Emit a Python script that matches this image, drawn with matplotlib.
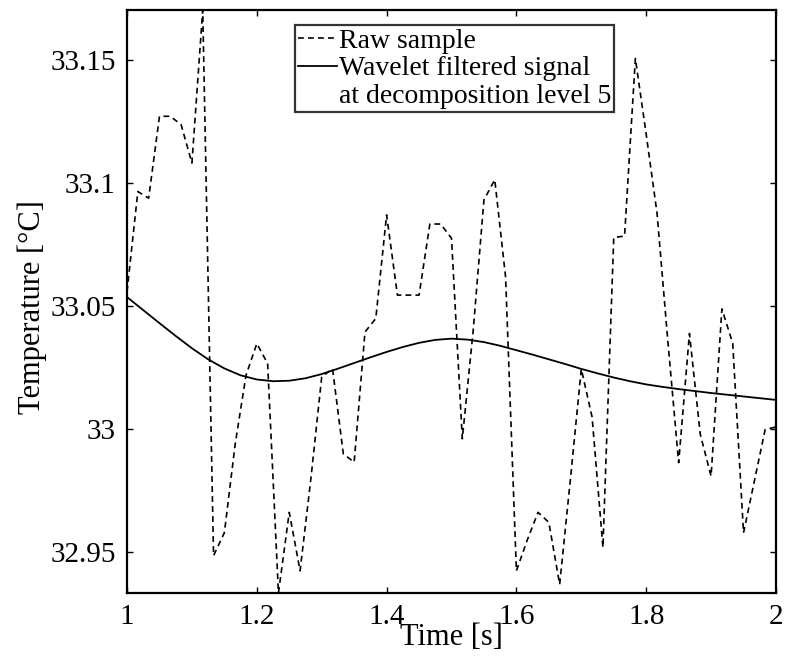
import numpy as np
import matplotlib
matplotlib.use('Agg')
import matplotlib.pyplot as plt
from matplotlib.lines import Line2D

plt.rcParams['font.family'] = ['Liberation Serif', 'DejaVu Serif']

# raw temperature samples, 60 Hz between 1 s and 2 s
raw_t = np.arange(61) / 60 + 1.0
raw_temp = [33.056, 33.0967, 33.094, 33.1273, 33.1273, 33.1239, 33.1083, 33.1705,
            32.9487, 32.958, 32.994, 33.022, 33.0349, 33.0268, 32.9335, 32.9663,
            32.9425, 32.980, 33.0213, 33.0247, 32.990, 32.9867, 33.0396, 33.0451,
            33.0872, 33.0546, 33.0546, 33.0546, 33.0835, 33.0835, 33.0777, 32.9962,
            33.040, 33.0933, 33.1015, 33.062, 32.9425, 32.955, 32.9663, 32.9622,
            32.937, 32.980, 33.0246, 33.005, 32.952, 33.078, 33.0786, 33.1508,
            33.120, 33.088, 33.036, 32.9865, 33.039, 32.998, 32.981, 33.049,
            33.035, 32.958, 32.979, 33.000, 33.001]

# wavelet filtered signal (level 5)
filt_t = np.arange(41) / 40 + 1.0
filt_temp = [33.0538, 33.0485, 33.0432, 33.0380, 33.0330, 33.0285, 33.0248,
             33.0220, 33.0203, 33.0196, 33.0198, 33.0208, 33.0225, 33.0247,
             33.0270, 33.0293, 33.0315, 33.0335, 33.0352, 33.0364, 33.0369,
             33.0365, 33.0355, 33.0340, 33.0322, 33.0304, 33.0285, 33.0266,
             33.0246, 33.0228, 33.0211, 33.0196, 33.0183, 33.0173, 33.0164,
             33.0156, 33.0148, 33.0141, 33.0134, 33.0127, 33.0120]

x_ticks = [1, 1.2, 1.4, 1.6, 1.8, 2]
x_labels = ['1', '1.2', '1.4', '1.6', '1.8', '2']
y_ticks = [32.95, 33.0, 33.05, 33.1, 33.15]
y_labels = ['32.95', '33', '33.05', '33.1', '33.15']

fig = plt.figure(figsize=(7.87, 6.62), dpi=100)
ax = fig.add_axes([0.1614, 0.1042, 0.8246, 0.8807])

ax.plot(raw_t, raw_temp, color='black', lw=1.2, linestyle=(0, (3.5, 2.5)))
ax.plot(filt_t, filt_temp, color='black', lw=1.3)

ax.set_xlim(1, 2)
ax.set_ylim(min(raw_temp), max(raw_temp))
ax.set_xticks(x_ticks)
ax.set_xticklabels(x_labels)
ax.set_yticks(y_ticks)
ax.set_yticklabels(y_labels)
ax.tick_params(direction='in', top=True, right=True, length=4, width=1,
               labelsize=21, pad=8)
for s in ax.spines.values():
    s.set_linewidth(1.6)

ax.set_xlabel('Time [s]', fontsize=22, labelpad=-5)
ax.set_ylabel('Temperature [°C]', fontsize=22)
ax.yaxis.set_label_coords(-0.124, 0.49)

handles = [Line2D([], [], color='black', lw=1.2, linestyle=(0, (3.5, 2.5))),
           Line2D([], [], color='black', lw=1.3),
           Line2D([], [], color='none')]
labels = ['Raw sample', 'Wavelet filtered signal', 'at decomposition level 5']
leg = ax.legend(handles, labels, loc='upper left', bbox_to_anchor=(0.259, 0.974),
                fontsize=20, frameon=True, fancybox=False, edgecolor='black',
                handlelength=1.4, handletextpad=0.05, borderpad=0.12,
                labelspacing=0.07, borderaxespad=0)
leg.get_frame().set_linewidth(1.6)

plt.savefig('out.png', dpi=100)
plt.close()
